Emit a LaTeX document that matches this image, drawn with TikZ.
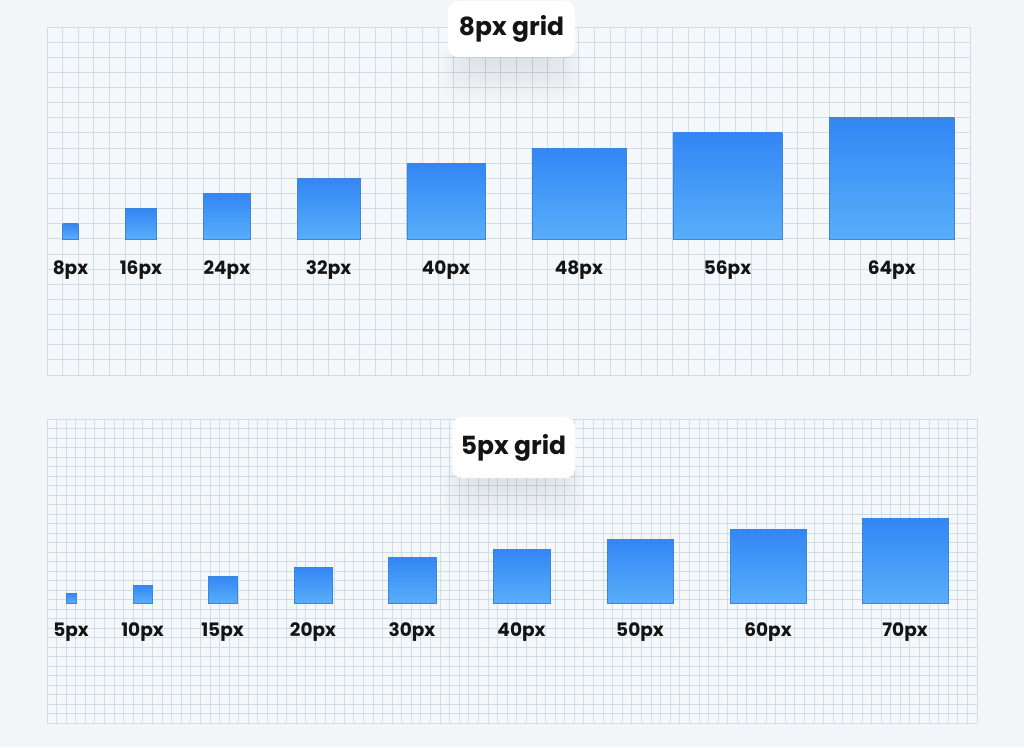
\documentclass[tikz,border=0pt]{standalone}
\usepackage{fontspec}
\setmainfont{Poppins}
\definecolor{bg}{HTML}{F3F5F8}
\definecolor{gridbg}{HTML}{F5F8FB}
\definecolor{gridline}{HTML}{D0DDE6}
\definecolor{sqtop}{HTML}{3386F4}
\definecolor{sqbot}{HTML}{58AEFA}
\definecolor{ink}{HTML}{141414}
\tikzset{
  sq/.style={inner sep=0pt, outer sep=0pt, top color=sqtop, bottom color=sqbot, draw=sqtop!80!black!60!sqbot, line width=0.3pt, anchor=south west},
  lbl/.style={font=\bfseries\fontsize{18.5}{18.5}\selectfont, text=ink, anchor=base, inner sep=0pt},
  ttl/.style={font=\bfseries\fontsize{25}{25}\selectfont, text=ink, fill=white, rounded corners=10pt, inner sep=0pt},
  gl/.style={draw=gridline, line width=0.9pt},
  shd/.style={fill=black!70!blue, opacity=0.005, rounded corners=22pt},
}
\begin{document}
\begin{tikzpicture}[x=1pt, y=-1pt]
\useasboundingbox (0,0) rectangle (1024,747);
\fill[bg] (0,0) rectangle (1024,747);
% ---------- top grid (8px) ----------
\fill[gridbg] (47,27) rectangle (970,375);
\foreach \i in {0,...,59} \draw[gl] ({47+\i*15.644},27) -- ({47+\i*15.644},375);
\foreach \j in {0,...,23} \draw[gl] (47,{27+\j*15.13}) -- (970,{27+\j*15.13});
% ---------- bottom grid (5px) ----------
\fill[gridbg] (47,419) rectangle (977,723);
\foreach \i in {0,...,97} \draw[gl] ({47+\i*9.588},419) -- ({47+\i*9.588},723);
\foreach \j in {0,...,32} \draw[gl] (47,{419+\j*9.5}) -- (977,{419+\j*9.5});
% ---------- title boxes with soft shadows ----------
\foreach \s in {1,...,22} {
  \fill[shd] ({468-\s*1.3},{30+\s*0.6}) rectangle ({555+\s*1.3},{58+\s*2.1});
  \fill[shd] ({470-\s*1.3},{448+\s*0.6}) rectangle ({557+\s*1.3},{478+\s*2.1});
}
\node[ttl, minimum width=127pt, minimum height=56pt] (title8) at (511.5,29) {8px grid};
\node[ttl, minimum width=123pt, minimum height=61pt] (title5) at (513.5,447.5) {5px grid};
% ---------- top squares ----------
\foreach \k/\n/\v in {1/1/8, 5/2/16, 10/3/24, 16/4/32, 23/5/40, 31/6/48, 40/7/56, 50/8/64} {
  \node[sq, minimum width={\n*15.644pt}, minimum height={\n*15.13pt}] (t\v) at ({47+\k*15.644},238.8) {};
  \path (t\v.south) ++(0,36) node[lbl] (tl\v) {\v px};
}
% ---------- bottom squares ----------
\foreach \x/\w/\h/\v in {66/10/10/5, 133/19/18/10, 208/29/27/15, 294/38/36/20, 388/48/46/30, 493/57/54/40, 607/66/64/50, 730/76/74/60, 862/86/85/70} {
  \node[sq, minimum width={\w pt}, minimum height={\h pt}] (b\v) at (\x,603) {};
  \path (b\v.south) ++(0,33) node[lbl] (bl\v) {\v px};
}
\end{tikzpicture}
\end{document}
